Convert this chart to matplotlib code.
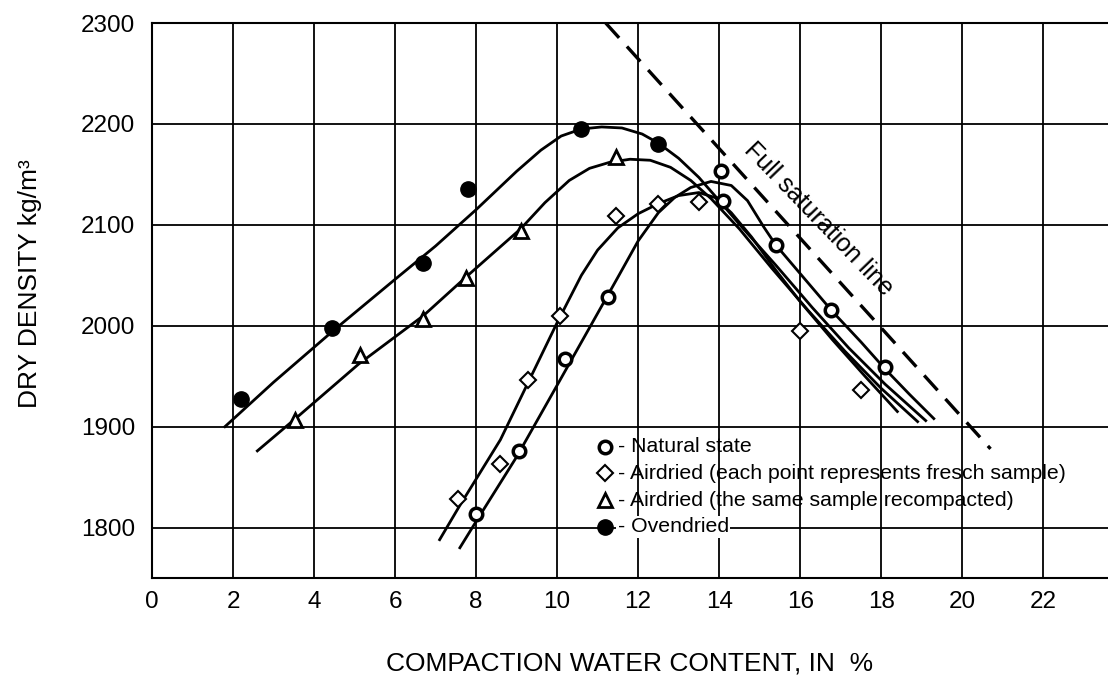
import matplotlib
matplotlib.use("Agg")
import matplotlib.pyplot as plt

# ------------------------------------------------------------
# Data
# ------------------------------------------------------------

# measured points
natural_w = [8.0, 9.06, 10.2, 11.26, 14.05, 14.1, 15.4, 16.77, 18.1]
natural_d = [1813, 1876, 1967, 2028, 2153, 2124, 2080, 2016, 1959]

fresh_w = [7.56, 8.6, 9.28, 10.07, 11.46, 12.5, 13.5, 16.0, 17.5]
fresh_d = [1828, 1863, 1946, 2010, 2109, 2121, 2123, 1995, 1936]

recomp_w = [3.53, 5.14, 6.7, 7.75, 9.1, 11.46]
recomp_d = [1907, 1971, 2007, 2047, 2094, 2167]

oven_w = [2.2, 4.44, 6.7, 7.8, 10.6, 12.5]
oven_d = [1927, 1998, 2062, 2136, 2195, 2180]

# fitted curves (vertices)
natural_curve_w = [7.6, 8.0, 9.0, 10.0, 10.8, 11.5, 12.0, 12.5, 12.9, 13.3, 13.8,
                   14.3, 14.7, 15.1, 15.4, 16.1, 16.8, 17.5, 18.1, 18.7, 19.3]
natural_curve_d = [1780, 1806, 1870, 1941, 1998, 2048, 2084, 2112, 2127, 2137, 2143,
                   2139, 2124, 2098, 2080, 2047, 2014, 1984, 1957, 1932, 1908]

fresh_curve_w = [7.1, 7.6, 8.6, 9.3, 10.0, 10.6, 11.0, 11.5, 12.0, 12.5, 13.0,
                 13.5, 13.9, 14.3, 14.8, 15.4, 16.0, 16.8, 17.6, 18.4]
fresh_curve_d = [1788, 1822, 1887, 1945, 2003, 2050, 2075, 2097, 2111, 2121, 2129,
                 2132, 2127, 2112, 2088, 2055, 2024, 1986, 1950, 1915]

recomp_curve_w = [2.6, 3.6, 5.1, 6.7, 7.8, 9.1, 9.7, 10.3, 10.8, 11.3, 11.8,
                  12.3, 12.8, 13.3, 13.8, 14.5, 15.3, 16.2, 17.1, 18.0, 18.9]
recomp_curve_d = [1876, 1910, 1962, 2010, 2050, 2096, 2122, 2144, 2156, 2162, 2165,
                  2164, 2157, 2144, 2126, 2096, 2057, 2015, 1975, 1938, 1905]

oven_curve_w = [1.8, 3.0, 4.5, 6.0, 7.0, 8.0, 9.0, 9.6, 10.1, 10.6, 11.1, 11.6,
                12.1, 12.5, 13.0, 13.5, 14.0, 14.6, 15.4, 16.3, 17.2, 18.1, 19.1]
oven_curve_d = [1900, 1944, 1996, 2046, 2079, 2115, 2153, 2174, 2188, 2195, 2197, 2196,
                2190, 2181, 2166, 2147, 2124, 2096, 2060, 2018, 1978, 1942, 1906]

# full saturation line
sat_w = [11.2, 20.7]
sat_d = [2300, 1878]

legend_labels = [
    "- Natural state",
    "- Airdried (each point represents fresch sample)",
    "- Airdried (the same sample recompacted)",
    "- Ovendried",
]
legend_y = [1880, 1854, 1827, 1801]

# ------------------------------------------------------------
# Plot
# ------------------------------------------------------------

plt.rcParams["font.family"] = ["Liberation Sans", "DejaVu Sans"]

fig = plt.figure(figsize=(11.08, 6.81), dpi=100)
ax = fig.add_axes([0.1372, 0.1512, 0.8628, 0.815])

ax.set_xlim(0, 23.6)
ax.set_ylim(1750, 2300)
ax.set_xticks(range(0, 23, 2))
ax.set_yticks(range(1800, 2301, 100))
ax.grid(True, color="black", linewidth=1.3)
ax.set_axisbelow(True)
ax.tick_params(length=0, labelsize=17.5, pad=12)
ax.tick_params(axis="x", pad=9)
ax.spines["right"].set_visible(False)
for side in ["left", "bottom", "top"]:
    ax.spines[side].set_linewidth(1.5)

lw = 2.0
ax.plot(oven_curve_w, oven_curve_d, color="black", lw=lw, zorder=3)
ax.plot(recomp_curve_w, recomp_curve_d, color="black", lw=lw, zorder=3)
ax.plot(fresh_curve_w, fresh_curve_d, color="black", lw=lw, zorder=3)
ax.plot(natural_curve_w, natural_curve_d, color="black", lw=lw, zorder=3)
ax.plot(sat_w, sat_d, color="black", lw=2.4, dashes=(6, 3.5), zorder=3)

ms = 10
ax.plot(natural_w, natural_d, "o", ms=ms - 1, mfc="white", mec="black", mew=2.5, zorder=4)
ax.plot(fresh_w, fresh_d, "D", ms=ms - 2, mfc="white", mec="black", mew=1.5, zorder=4)
ax.plot(recomp_w, recomp_d, "^", ms=ms, mfc="white", mec="black", mew=2, zorder=4)
ax.plot(oven_w, oven_d, "o", ms=ms + 1, mfc="black", mec="black", zorder=4)

ax.text(16.45, 2106, "Full saturation line", rotation=-46, fontsize=18,
        ha="center", va="center", rotation_mode="anchor", zorder=5)

# legend block drawn inside the grid
marker_styles = [
    dict(marker="o", ms=ms - 1, mfc="white", mec="black", mew=2.5),
    dict(marker="D", ms=ms - 2, mfc="white", mec="black", mew=1.5),
    dict(marker="^", ms=ms, mfc="white", mec="black", mew=2),
    dict(marker="o", ms=ms + 1, mfc="black", mec="black"),
]
for label, y, style in zip(legend_labels, legend_y, marker_styles):
    ax.plot([11.18], [y], linestyle="none", zorder=6, **style)
    box = dict(facecolor="white", edgecolor="none", pad=1) if label == "- Ovendried" else None
    ax.text(11.5, y, label, fontsize=15.3, ha="left", va="center", zorder=5, bbox=box)

ax.set_xlabel("COMPACTION WATER CONTENT, IN  %", fontsize=19, labelpad=28)
ax.set_ylabel("DRY DENSITY kg/m³", fontsize=19, labelpad=24)
ax.yaxis.set_label_coords(-0.115, 0.53)

fig.savefig("out.png", dpi=100)
